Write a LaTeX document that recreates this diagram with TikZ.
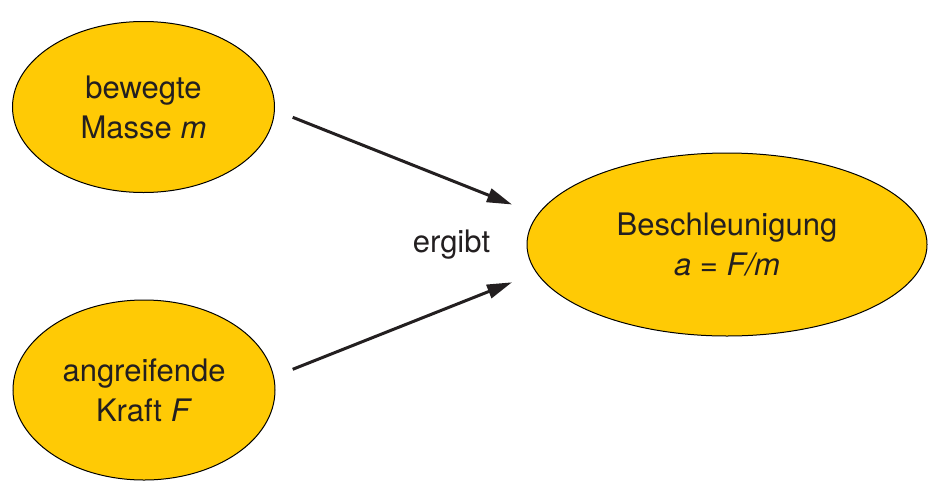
\documentclass[tikz,border=0pt]{standalone}
\usepackage{fontspec}
\setmainfont{TeX Gyre Heros}
\usetikzlibrary{shapes.geometric,arrows.meta}
\definecolor{bubble}{HTML}{FFCA05}
\definecolor{ink}{HTML}{231F20}
\begin{document}
\begin{tikzpicture}[x=1pt,y=-1pt,
  bubble/.style={ellipse,draw=black,line width=1pt,fill=bubble,inner sep=0pt,
    align=center,text=ink,font=\fontsize{31}{40}\selectfont},
  flow/.style={line width=3pt,draw=ink,-{Triangle[length=25pt,width=14pt]}},
  caption/.style={text=ink,font=\fontsize{31}{40}\selectfont,inner sep=0pt}]
  \useasboundingbox (0,0) rectangle (933,482);
  % source quantities
  \node[bubble,minimum width=262pt,minimum height=171pt] (mass) at (143.5,107)
    {bewegte\\Masse \textit{m}};
  \node[bubble,minimum width=262pt,minimum height=180pt] (force) at (144,390)
    {angreifende\\Kraft \textit{F}};
  % result
  \node[bubble,minimum width=400pt,minimum height=183pt] (accel) at (727,244.5)
    {Beschleunigung\\\textit{a} = \textit{F/m}};
  \node[caption] (gives) at (451.5,245) {ergibt};
  % arrow ends
  \coordinate (m1) at (292.7,117.3);
  \coordinate (m2) at (512,204.5);
  \coordinate (f1) at (292.7,369.3);
  \coordinate (f2) at (512,282.3);
  \draw[flow] (m1) -- (m2);
  \draw[flow] (f1) -- (f2);
\end{tikzpicture}
\end{document}
